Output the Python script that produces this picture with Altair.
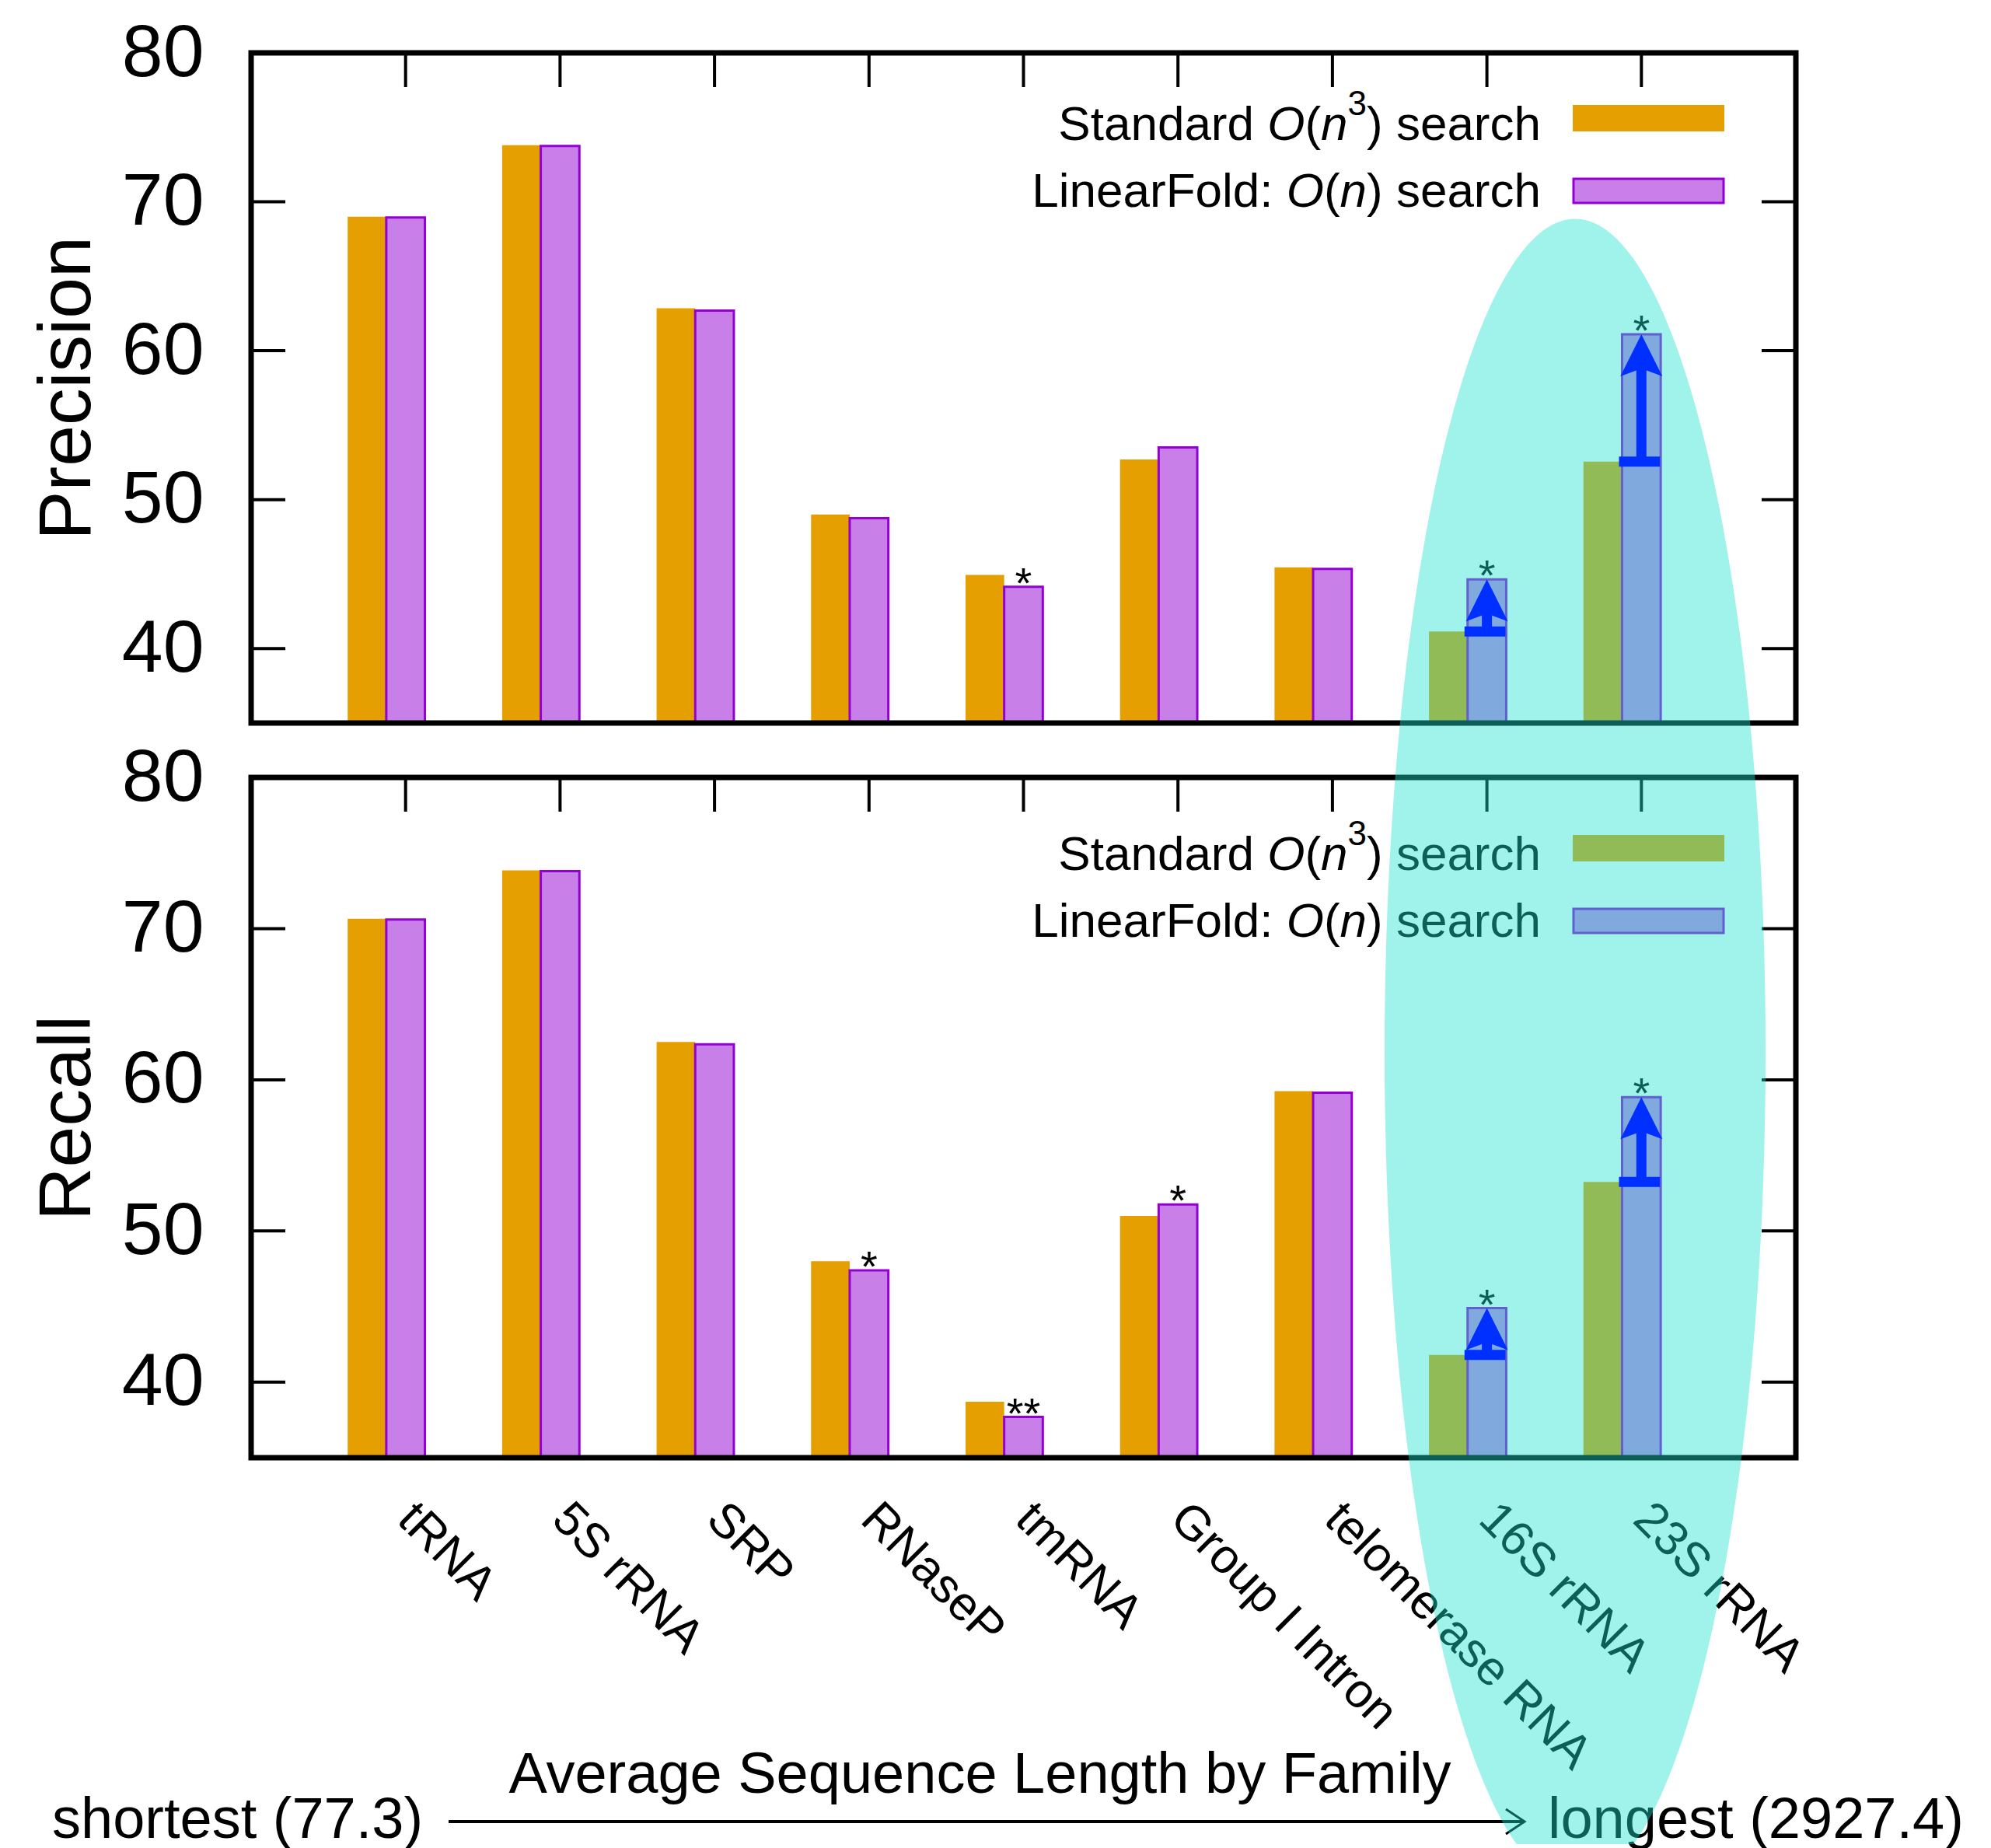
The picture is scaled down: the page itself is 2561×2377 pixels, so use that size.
import altair as alt
import pandas as pd

# ---------------- data ----------------
categories = ["tRNA", "5S rRNA", "SRP", "RNaseP", "tmRNA", "Group I Intron",
              "telomerase RNA", "16S rRNA", "23S rRNA"]
precision_standard = [69.0, 73.8, 62.85, 49.0, 44.95, 52.7, 45.45, 41.15, 52.55]
precision_linear = [68.95, 73.75, 62.7, 48.75, 44.15, 53.5, 45.35, 44.65, 61.1]
recall_standard = [70.65, 73.85, 62.5, 48.0, 38.7, 51.0, 59.25, 41.8, 53.25]
recall_linear = [70.6, 73.8, 62.35, 47.4, 37.7, 51.75, 59.15, 44.9, 58.85]
precision_marks = ["", "", "", "", "*", "", "", "*", "*"]
recall_marks = ["", "", "", "*", "**", "*", "", "*", "*"]
highlighted = ["16S rRNA", "23S rRNA"]
y_tick_values = [40, 50, 60, 70, 80]
axis_title_x = "Average Sequence Length by Family"
shortest_label = "shortest (77.3)"
longest_label = "longest (2927.4)"

# ---------------- style / layout ----------------
W = 1987
H_TOP, H_BOT = 862, 875
PAD_TOP = 13
FONT = "Liberation Sans"
ORANGE = "#E69F00"
PURPLE = "#C880E8"
VIOLET = "#9400D3"
CYAN = "#1CE3CC"
BLUE = "#0030FF"

AW = {" ": 278, "S": 667, "t": 278, "a": 556, "n": 556, "d": 556, "r": 333,
      "O": 778, "(": 333, ")": 333, "3": 556, "s": 500, "e": 556, "c": 500,
      "h": 556, "L": 556, "i": 222, "F": 611, "o": 556, "l": 222, ":": 278}


def tw(s, fs):
    return sum(AW[c] for c in s) * fs / 1000.0


one = pd.DataFrame({"k": [0]})
x_scale = alt.Scale(domain=[-1, 9], nice=False, zero=False)
y_scale = alt.Scale(domain=[35, 80], nice=False, zero=False)
label_expr = "[" + ",".join("'%s'" % c for c in categories) + "][datum.value]"


def make_x_axis(show):
    if not show:
        return None
    return alt.Axis(values=list(range(len(categories))), labelExpr=label_expr,
                    labelAngle=45, labelAlign="left", labelBaseline="middle",
                    labelFontSize=62, labelColor="black", labelPadding=68,
                    labelLimit=2000, labelOverlap=False, labelFlush=False,
                    ticks=False, tickSize=0, domain=False, grid=False,
                    title=axis_title_x, titleFontSize=74, titleFontWeight="normal",
                    titleColor="black", titleX=937, titleY=430, titleAlign="center",
                    titleBaseline="alphabetic", titleAngle=0)


def make_y_axis(title, h):
    return alt.Axis(values=y_tick_values, labelFontSize=95, labelColor="black",
                    labelPadding=61, ticks=False, tickSize=0, domain=False, grid=False,
                    labelOverlap=False, labelFlush=False,
                    title=title, titleFontSize=95, titleFontWeight="normal",
                    titleColor="black", titleAngle=270, titleX=-208, titleY=h / 2,
                    titleAlign="center", titleBaseline="alphabetic")


def legend_layers(key_colors, off):
    layers = []
    fs, sup_fs = 62, 44
    right = 1659
    lines = [
        [("Standard ", "normal", False), ("O", "italic", False), ("(", "normal", False),
         ("n", "italic", False), ("3", "normal", True), (") search", "normal", False)],
        [("LinearFold: ", "normal", False), ("O", "italic", False), ("(", "normal", False),
         ("n", "italic", False), (") search", "normal", False)],
    ]
    baselines = [119 + off, 205 + off]
    for pieces, yb in zip(lines, baselines):
        x = right
        for text, style, sup in reversed(pieces):
            f = sup_fs if sup else fs
            shown = text.rstrip()
            trail = tw(text[len(shown):], f)
            layers.append(
                alt.Chart(one).mark_text(text=shown, fontStyle=style, fontSize=f,
                                         align="right", baseline="alphabetic",
                                         color="black")
                .encode(x=alt.value(x - trail), y=alt.value(yb - 32 if sup else yb)))
            x -= tw(text, f)
    # keys
    layers.append(alt.Chart(one).mark_rect(color=key_colors[0])
                  .encode(x=alt.value(1700), x2=alt.value(1895),
                          y=alt.value(74 + off), y2=alt.value(108 + off)))
    layers.append(alt.Chart(one).mark_rect(color=key_colors[1], stroke=VIOLET, strokeWidth=3)
                  .encode(x=alt.value(1701), x2=alt.value(1894),
                          y=alt.value(169 + off), y2=alt.value(200 + off)))
    return layers


TOP_ELLIPSE = "M -228.4 -388 A 245 1071 0 0 1 228.4 -388 Z"
BOTTOM_ELLIPSE = ("M 228.4 -388 A 245 1071 0 0 1 75.4 1019 L -75.4 1019 "
                  "A 245 1071 0 0 1 -228.4 -388 Z")
HEAD = "M 0 0 L 27 54 L 0 44 L -27 54 Z"


def panel(std, lin, sig, ytitle, bottom, h):
    df = pd.DataFrame({"idx": list(range(len(categories))), "std": std, "lin": lin,
                       "sig": sig, "hl": [c in highlighted for c in categories]})
    base = alt.Chart(df)
    xa = make_x_axis(bottom)
    ya = make_y_axis(ytitle, h)

    def X(f):
        return alt.X(f, type="quantitative", scale=x_scale, axis=xa)

    def Y(f):
        return alt.Y(f, type="quantitative", scale=y_scale, axis=ya)

    layers = []
    layers.append(base.transform_calculate(x0="datum.idx - 0.375", x1="datum.idx - 0.125")
                  .mark_rect(color=ORANGE)
                  .encode(x=X("x0"), x2="x1:Q", y=Y("std"), y2=alt.datum(35)))
    layers.append(base.transform_calculate(x0="datum.idx - 0.125", x1="datum.idx + 0.125")
                  .mark_rect(color=PURPLE, stroke=VIOLET, strokeWidth=3)
                  .encode(x=X("x0"), x2="x1:Q", y=Y("lin"), y2=alt.datum(35)))
    layers.append(base.transform_filter("datum.sig != ''")
                  .mark_text(fontSize=56, baseline="alphabetic", dy=14, color="black")
                  .encode(x=X("idx"), y=Y("lin"), text="sig:N"))
    # inward ticks
    layers.append(base.mark_rule(color="black", strokeWidth=4)
                  .encode(x=X("idx"), y=alt.value(0), y2=alt.value(44)))
    ytk = alt.Chart(pd.DataFrame({"v": y_tick_values}))
    layers.append(ytk.mark_rule(color="black", strokeWidth=4)
                  .encode(y=Y("v"), x=alt.value(0), x2=alt.value(44)))
    layers.append(ytk.mark_rule(color="black", strokeWidth=4)
                  .encode(y=Y("v"), x=alt.value(W - 44), x2=alt.value(W)))
    # frame
    layers.append(alt.Chart(one).mark_rect(filled=False, color="black", strokeWidth=7)
                  .encode(x=alt.value(0), x2=alt.value(W), y=alt.value(0), y2=alt.value(h)))
    if bottom:
        layers += legend_layers([ORANGE, PURPLE], 0)
        layers.append(alt.Chart(one).mark_text(text=shortest_label, fontSize=74, align="left",
                                               baseline="alphabetic", color="black")
                      .encode(x=alt.value(-256), y=alt.value(1364)))
        layers.append(alt.Chart(one).mark_text(text=longest_label, fontSize=74, align="left",
                                               baseline="alphabetic", color="black")
                      .encode(x=alt.value(1668), y=alt.value(1364)))
        layers.append(alt.Chart(one).mark_rule(color="black", strokeWidth=4)
                      .encode(x=alt.value(254), x2=alt.value(1638), y=alt.value(1343)))
        layers.append(alt.Chart(one).mark_point(shape="M -24 -16 L 0 0 L -24 16", size=4,
                                                filled=False, color="black", strokeWidth=3,
                                                opacity=1)
                      .encode(x=alt.value(1638), y=alt.value(1343)))
        layers.append(alt.Chart(one).mark_point(shape=BOTTOM_ELLIPSE, size=4, filled=True,
                                                color=CYAN, opacity=0.42, strokeWidth=0)
                      .encode(x=alt.value(1703), y=alt.value(353)))
    else:
        layers += legend_layers([ORANGE, PURPLE], -7)
        layers.append(alt.Chart(one).mark_point(shape=TOP_ELLIPSE, size=4, filled=True,
                                                color=CYAN, opacity=0.42, strokeWidth=0)
                      .encode(x=alt.value(1703), y=alt.value(h + 35 + 388)))
    # improvement arrows
    hl = base.transform_filter("datum.hl")
    layers.append(hl.transform_calculate(a0="datum.idx - 0.145", a1="datum.idx + 0.12")
                  .mark_rule(color=BLUE, strokeWidth=13)
                  .encode(x=X("a0"), x2="a1:Q", y=Y("std")))
    layers.append(hl.mark_rule(color=BLUE, strokeWidth=13, y2Offset=30)
                  .encode(x=X("idx"), y=Y("std"), y2="lin:Q"))
    layers.append(hl.mark_point(shape=HEAD, size=4, filled=True, color=BLUE, opacity=1)
                  .encode(x=X("idx"), y=Y("lin")))
    return alt.layer(*layers).properties(width=W, height=h)


top = panel(precision_standard, precision_linear, precision_marks, "Precision", False, H_TOP)
bot = panel(recall_standard, recall_linear, recall_marks, "Recall", True, H_BOT)

chart = (alt.vconcat(top, bot, spacing=70, bounds="flush")
         .properties(padding={"left": 31, "top": PAD_TOP, "right": 5, "bottom": 0})
         .configure(font=FONT)
         .configure_view(strokeWidth=0))

chart.save("out.html", embed_options={"renderer": "svg", "actions": False})
